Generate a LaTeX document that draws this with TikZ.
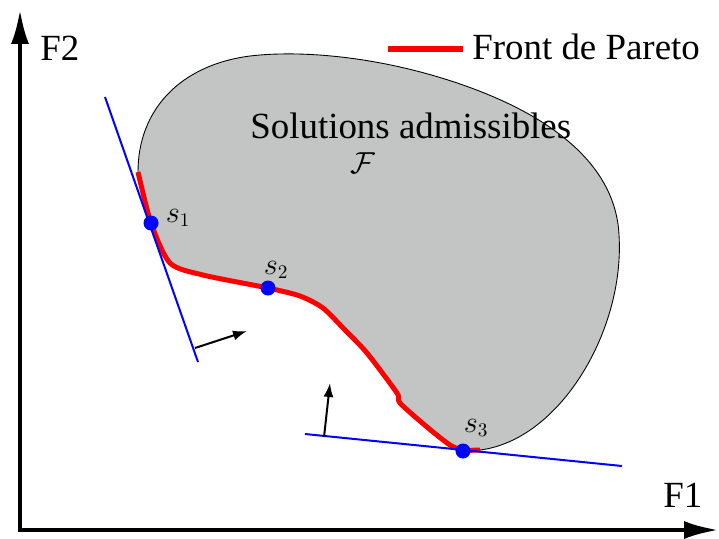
\documentclass[tikz,border=0pt]{standalone}
\usepackage{fontspec}
\setmainfont{Liberation Serif}
\usepackage{amsmath}
\usepackage{xcolor}
\usepackage{tikz}
\usetikzlibrary{arrows.meta}

\definecolor{grisZone}{RGB}{195,197,196}
\tikzset{
	axe/.style={line width=0.09cm, {Latex[length=0.7cm,width=0.36cm]}-{Latex[length=0.7cm,width=0.36cm]}},
	zone/.style={fill=grisZone, draw=black, line width=0.5pt},
	front/.style={red, line width=0.1cm, line join=round},
	tangente/.style={blue, line width=0.04cm},
	normale/.style={line width=0.04cm, -{Latex[length=0.28cm,width=0.2cm]}},
	solution/.style={circle, fill=blue, inner sep=0pt, minimum size=0.3cm},
	texte/.style={font=\fontsize{21}{25}\selectfont, inner sep=0pt},
	etiquette/.style={font=\fontsize{16}{19}\selectfont, inner sep=0pt}
}

\begin{document}
\begin{tikzpicture}[x=0.02cm, y=-0.02cm]
				\useasboundingbox (0,0) rectangle (719,538);
				% Zone admissible et front:
				\filldraw[zone] plot[smooth, tension=0.45] coordinates {(138,172) (151,223) (170,263) (203,275) (268,288) (300,296) (323,308) (345,330) (367,353) (397,393) (400,403) (427,427) (450,445) (463,450) (480,450)}
					.. controls (560,440) and (625,330) .. (619,235)
					.. controls (616,170) and (560,119) .. (463,85)
					.. controls (380,56) and (300,50) .. (250,56)
					.. controls (180,65) and (138,110) .. (138,172) -- cycle;
				\draw[front] plot[smooth, tension=0.45] coordinates {(138,172) (151,223) (170,263) (203,275) (268,288) (300,296) (323,308) (345,330) (367,353) (397,393) (400,403) (427,427) (450,445) (463,450) (480,450)};
				% Axes:
				\coordinate (O) at (20,530);
				\coordinate (yMax) at (20,9);
				\coordinate (xMax) at (719,530);
				\draw[axe] (yMax) -- (O) -- (xMax);
				\node[texte, anchor=base west](F2) at (40,60){F2};
				\node[texte, anchor=base west](F1) at (663,507){F1};
				% Legende:
				\coordinate (legA) at (388,49);
				\coordinate (legB) at (463,49);
				\draw[red, line width=0.12cm] (legA) -- (legB);
				\node[texte, anchor=base west](legende) at (472,59){Front de Pareto};
				\node[texte, anchor=base west](admissibles) at (250,138){Solutions admissibles};
				\node[etiquette](ensF) at (363,163){$\mathcal{F}$};
				% Tangentes et normales:
				\coordinate (t1a) at (105,97);
				\coordinate (t1b) at (198,362);
				\coordinate (t2a) at (305,434);
				\coordinate (t2b) at (622,466);
				\draw[tangente] (t1a) -- (t1b);
				\draw[tangente] (t2a) -- (t2b);
				\coordinate (n1a) at (195,348);
				\coordinate (n1b) at (247,331);
				\coordinate (n2a) at (324,437);
				\coordinate (n2b) at (330,383);
				\draw[normale] (n1a) -- (n1b);
				\draw[normale] (n2a) -- (n2b);
				% Solutions:
				\node[solution](s1) at (151,223){};
				\node[solution](s2) at (268,288){};
				\node[solution](s3) at (463,451){};
				\node[etiquette](l1) at (178,218){$s_1$};
				\node[etiquette](l2) at (276,270){$s_2$};
				\node[etiquette](l3) at (476,428){$s_3$};
			\end{tikzpicture}
\end{document}
